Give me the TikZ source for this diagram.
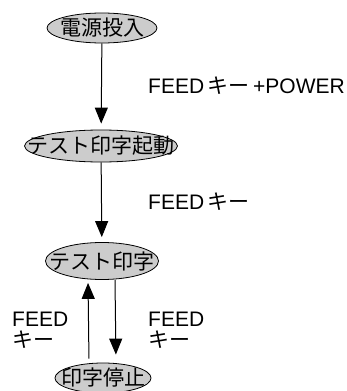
\documentclass[tikz,border=0pt]{standalone}
\usepackage{fontspec}
\setmainfont{Liberation Sans}
\newfontfamily\jp{Noto Sans CJK JP}
\usetikzlibrary{shapes.geometric,arrows.meta}
\begin{document}
\begin{tikzpicture}[x=1pt,y=-1pt,
  st/.style={ellipse, draw, fill=black!20, line width=0.8pt, inner sep=0pt},
  lbl/.style={anchor=west, inner sep=0pt, align=left, font=\fontsize{21}{21}\selectfont},
  arr/.style={-{Triangle[length=16pt,width=13pt]}, line width=1pt}]
\useasboundingbox (0,0) rectangle (347,391);
\node[st, minimum width=110pt, minimum height=30pt] (s1) at (102,28) {\makebox[0pt]{\jp\fontsize{21}{21}\selectfont 電源投入}};
\node[st, minimum width=153pt, minimum height=32pt] (s2) at (101,146) {\makebox[0pt]{\jp\fontsize{21}{21}\selectfont テスト印字起動}};
\node[st, minimum width=113pt, minimum height=37pt] (s3) at (102,261) {\makebox[0pt]{\jp\fontsize{21}{21}\selectfont テスト印字}};
\node[st, minimum width=96pt, minimum height=30pt] (s4) at (103,378) {\makebox[0pt]{\jp\fontsize{21}{21}\selectfont 印字停止}};
\draw[arr, shorten >=6pt] (s1) -- (s2);
\draw[arr, shorten >=5pt] (s2) -- (s3);
\draw[arr, shorten <=4pt, shorten >=3pt] ([xshift=-14pt]s4.north) -- ([xshift=-14pt]s3.south);
\draw[arr, shorten >=8pt] ([xshift=13pt]s3.south) -- ([xshift=13pt]s4.north);
\node[lbl] (l1) at (148,86) {FEED\,{\jp キー}\,+POWER};
\node[lbl] (l2) at (148,202) {FEED\,{\jp キー}};
\node[lbl] (l3) at (12,330) {FEED\\{\jp キー}};
\node[lbl] (l4) at (148,330) {FEED\\{\jp キー}};
\end{tikzpicture}
\end{document}
